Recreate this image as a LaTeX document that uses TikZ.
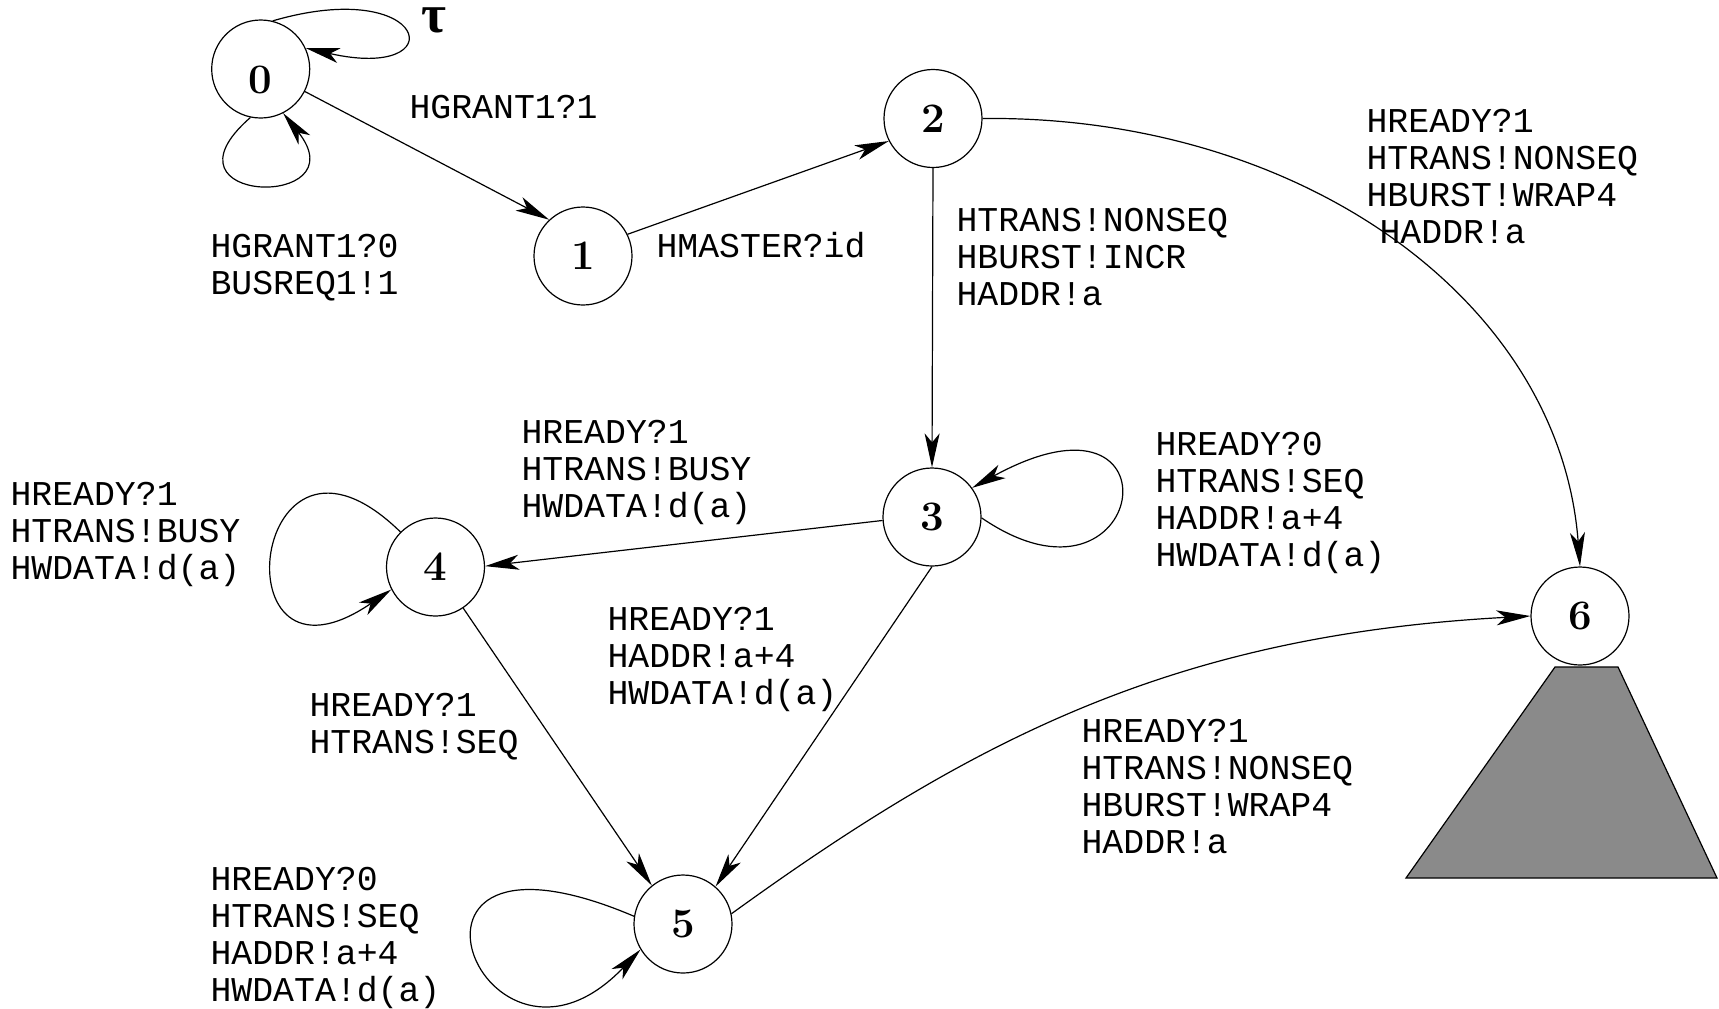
\documentclass[tikz,border=0pt]{standalone}
\usepackage{fontspec}
\usepackage{tikz}
\usetikzlibrary{automata, positioning, arrows.meta}
\newfontfamily\monofnt{Liberation Mono}
\newfontfamily\greekfnt{Liberation Serif}
\newcommand{\trlines}[1]{\begin{tabular}[t]{@{}l@{}}#1\end{tabular}}

\begin{document}
\begin{tikzpicture}[->,>={Stealth[length=17pt,width=7.5pt,inset=4.5pt]},x=0.5pt,y=-0.5pt,line width=0.6pt,
    every state/.style={draw,circle,fill=white,minimum size=49pt,inner sep=0pt,font=\fontsize{21}{25}\selectfont\bfseries},
    trans/.style={anchor=base west,inner sep=0pt,font=\monofnt\fontsize{17.4}{18.5}\selectfont}]
    \useasboundingbox (0,0) rectangle (1719,1008);

    % the gray block under state 6
    \draw[-,fill=black!46] (1555,667) -- (1618,667) -- (1717,878) -- (1406,878) -- cycle;

    \node[state,text height=24pt,text depth=0pt] (n0) at (260.7,69) {0};
    \node[state] (n1) at (583,256) {1};
    \node[state] (n2) at (933,118.5) {2};
    \node[state] (n3) at (932,517) {3};
    \node[state] (n4) at (435.5,567) {4};
    \node[state] (n5) at (683,924) {5};
    \node[state] (n6) at (1580,616) {6};

    \node[anchor=base west,inner sep=0pt,text height=13pt,font=\greekfnt\fontsize{27}{30}\selectfont\bfseries] (tau) at (421,32) {τ};
    \node[trans] (l01) at (409,118) {HGRANT1?1};
    \node[trans] (l00) at (210,257) {\trlines{HGRANT1?0\\BUSREQ1!1}};
    \node[trans] (l12) at (656,257) {HMASTER?id};
    \node[trans] (l23) at (956,231) {\trlines{HTRANS!NONSEQ\\HBURST!INCR\\HADDR!a}};
    \node[trans] (l26) at (1366,132) {\trlines{HREADY?1\\HTRANS!NONSEQ\\HBURST!WRAP4\\\hspace{6.5pt}HADDR!a}};
    \node[trans] (l34) at (521,443) {\trlines{HREADY?1\\HTRANS!BUSY\\HWDATA!d(a)}};
    \node[trans] (l33) at (1155,455) {\trlines{HREADY?0\\HTRANS!SEQ\\HADDR!a+4\\HWDATA!d(a)}};
    \node[trans] (l44) at (10,505) {\trlines{HREADY?1\\HTRANS!BUSY\\HWDATA!d(a)}};
    \node[trans] (l35) at (607,630) {\trlines{HREADY?1\\HADDR!a+4\\HWDATA!d(a)}};
    \node[trans] (l45) at (309,716) {\trlines{HREADY?1\\HTRANS!SEQ}};
    \node[trans] (l56) at (1081,742) {\trlines{HREADY?1\\HTRANS!NONSEQ\\HBURST!WRAP4\\HADDR!a}};
    \node[trans] (l55) at (210,890) {\trlines{HREADY?0\\HTRANS!SEQ\\HADDR!a+4\\HWDATA!d(a)}};

    \draw (n0.-27) -- (n1.133);
    \draw (n1.26) -- (n2.207);
    \draw (n2.south) -- (n3.north);
    \draw (n3.184) -- (n4.1);
    \draw (n3.-90) -- (n5.49);
    \draw (n4.-56) -- (n5.129);
    \draw (n2.east) .. controls (1300,115) and (1560,300) .. (n6.north);
    \draw (n5.12) .. controls (977,736) and (1178,635) .. (n6.west);

    % self loops
    \draw (n0.76) .. controls (430,-25) and (455,82) .. (n0.25);
    \draw (n0.-102) .. controls (150,205) and (360,210) .. (n0.-63);
    \draw (n3.-1) .. controls (1147,631) and (1187,370) .. (n3.36);
    \draw (n4.135) .. controls (250,385) and (215,710) .. (n4.207);
    \draw (n5.171) .. controls (358.3,799) and (484,1114) .. (n5.211);
\end{tikzpicture}
\end{document}
